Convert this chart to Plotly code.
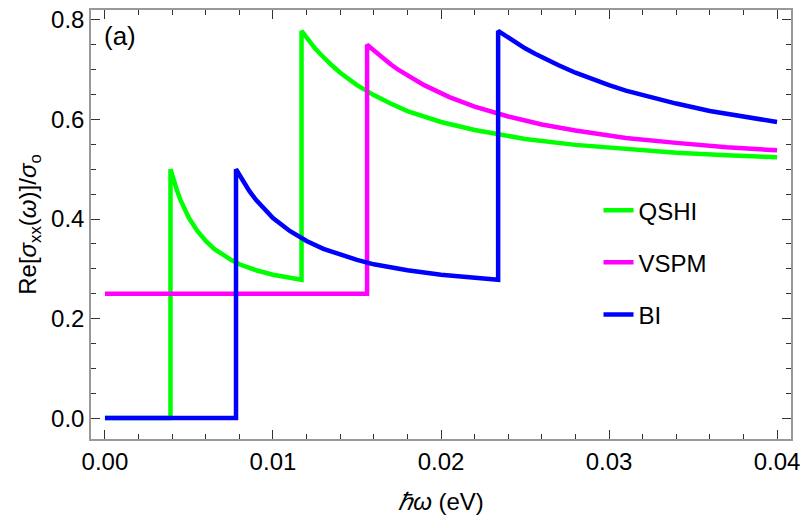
"""Re[sigma_xx(w)]/sigma_o vs hbar*omega for QSHI, VSPM, BI (Plotly)"""
import plotly.graph_objects as go

# values
qshi_x = [0.0, 0.0039, 0.0039, 0.0040, 0.0041, 0.0042, 0.0043, 0.0045, 0.0048, 0.005, 0.0055, 0.006, 0.0065,
          0.007, 0.0075, 0.008, 0.009, 0.010, 0.011, 0.0117,
          0.0117, 0.0119, 0.012, 0.0122, 0.0125, 0.0128, 0.013, 0.0135, 0.014, 0.015, 0.016, 0.0165, 0.017,
          0.018, 0.019, 0.020, 0.022, 0.025, 0.028, 0.031, 0.034, 0.037, 0.040]
qshi_y = [0.0, 0.0, 0.500, 0.488, 0.476, 0.466, 0.456, 0.438, 0.415, 0.402, 0.376, 0.356, 0.340,
          0.328, 0.318, 0.309, 0.297, 0.288, 0.281, 0.278,
          0.778, 0.769, 0.764, 0.755, 0.743, 0.732, 0.725, 0.709, 0.694, 0.669, 0.649, 0.640, 0.632,
          0.617, 0.605, 0.595, 0.579, 0.561, 0.549, 0.540, 0.533, 0.528, 0.524]

vspm_x = [0.0, 0.0156, 0.0156, 0.0158, 0.0161, 0.0165, 0.017, 0.0175, 0.0185, 0.019, 0.0205, 0.022, 0.024,
          0.026, 0.028, 0.031, 0.034, 0.037, 0.040]
vspm_y = [0.25, 0.25, 0.750, 0.744, 0.735, 0.724, 0.711, 0.699, 0.678, 0.669, 0.645, 0.626, 0.606,
          0.590, 0.578, 0.563, 0.553, 0.544, 0.538]

bi_x = [0.0, 0.0078, 0.0078, 0.0080, 0.0082, 0.0084, 0.0086, 0.009, 0.0096, 0.010, 0.011, 0.012, 0.013,
        0.014, 0.015, 0.016, 0.018, 0.020, 0.022, 0.0234,
        0.0234, 0.0238, 0.024, 0.0244, 0.025, 0.0256, 0.026, 0.027, 0.028, 0.029, 0.030, 0.031, 0.032,
        0.034, 0.036, 0.038, 0.040]
bi_y = [0.0, 0.0, 0.500, 0.488, 0.476, 0.466, 0.456, 0.438, 0.415, 0.402, 0.376, 0.356, 0.340,
        0.328, 0.318, 0.309, 0.297, 0.288, 0.281, 0.278,
        0.778, 0.769, 0.764, 0.755, 0.743, 0.732, 0.725, 0.709, 0.694, 0.681, 0.669, 0.658, 0.649,
        0.632, 0.617, 0.605, 0.595]

series = [("QSHI", qshi_x, qshi_y, "#00ff00"),
          ("VSPM", vspm_x, vspm_y, "#ff00ff"),
          ("BI", bi_x, bi_y, "#0000ff")]

x_ticks = [0.0, 0.01, 0.02, 0.03, 0.04]
y_ticks = [0.0, 0.2, 0.4, 0.6, 0.8]

fig = go.Figure()
for name, xs, ys, col in series:
    fig.add_trace(go.Scatter(x=xs, y=ys, name=name, mode="lines", legendgroup=name,
                             line=dict(color=col, width=4.5)))

axis_common = dict(showline=True, linecolor="#999999", linewidth=1.5, mirror="ticks",
                   ticks="inside", ticklen=9, tickcolor="#333333", tickwidth=1.3,
                   showgrid=False, zeroline=False, tickfont=dict(size=24, color="black"))

fig.update_layout(
    width=806, height=528,
    paper_bgcolor="white", plot_bgcolor="white",
    font=dict(family="Liberation Sans, Arial", color="black", size=24),
    margin=dict(l=91, r=13, t=6, b=89),
    xaxis=dict(range=[-0.00083, 0.04083], tickvals=x_ticks, tickformat=".2f",
               minor=dict(dtick=0.002, ticklen=5, ticks="inside", tickcolor="#333333", tickwidth=1.1),
               title=dict(text="<i>ℏω</i> (eV)", font=dict(size=24), standoff=20),
               **axis_common),
    yaxis=dict(range=[-0.042, 0.82], tickvals=y_ticks, tickformat=".1f",
               minor=dict(dtick=0.05, ticklen=5, ticks="inside", tickcolor="#333333", tickwidth=1.1),
               title=dict(text="Re[<i>σ</i><sub>xx</sub>(<i>ω</i>)]/<i>σ</i><sub>o</sub>",
                          font=dict(size=24), standoff=8),
               **axis_common),
    legend=dict(x=0.725, y=0.585, xanchor="left", yanchor="top", bgcolor="rgba(0,0,0,0)",
                font=dict(size=24), tracegroupgap=18),
    showlegend=True,
    annotations=[dict(text="(a)", x=0.015, y=0.98, xref="paper", yref="paper",
                      xanchor="left", yanchor="top", showarrow=False, font=dict(size=26))],
)

fig.write_html("out.html", config={"displayModeBar": False},
               post_script="document.body.style.margin='0';document.body.style.overflow='hidden';")
print("Saved: out.html")
